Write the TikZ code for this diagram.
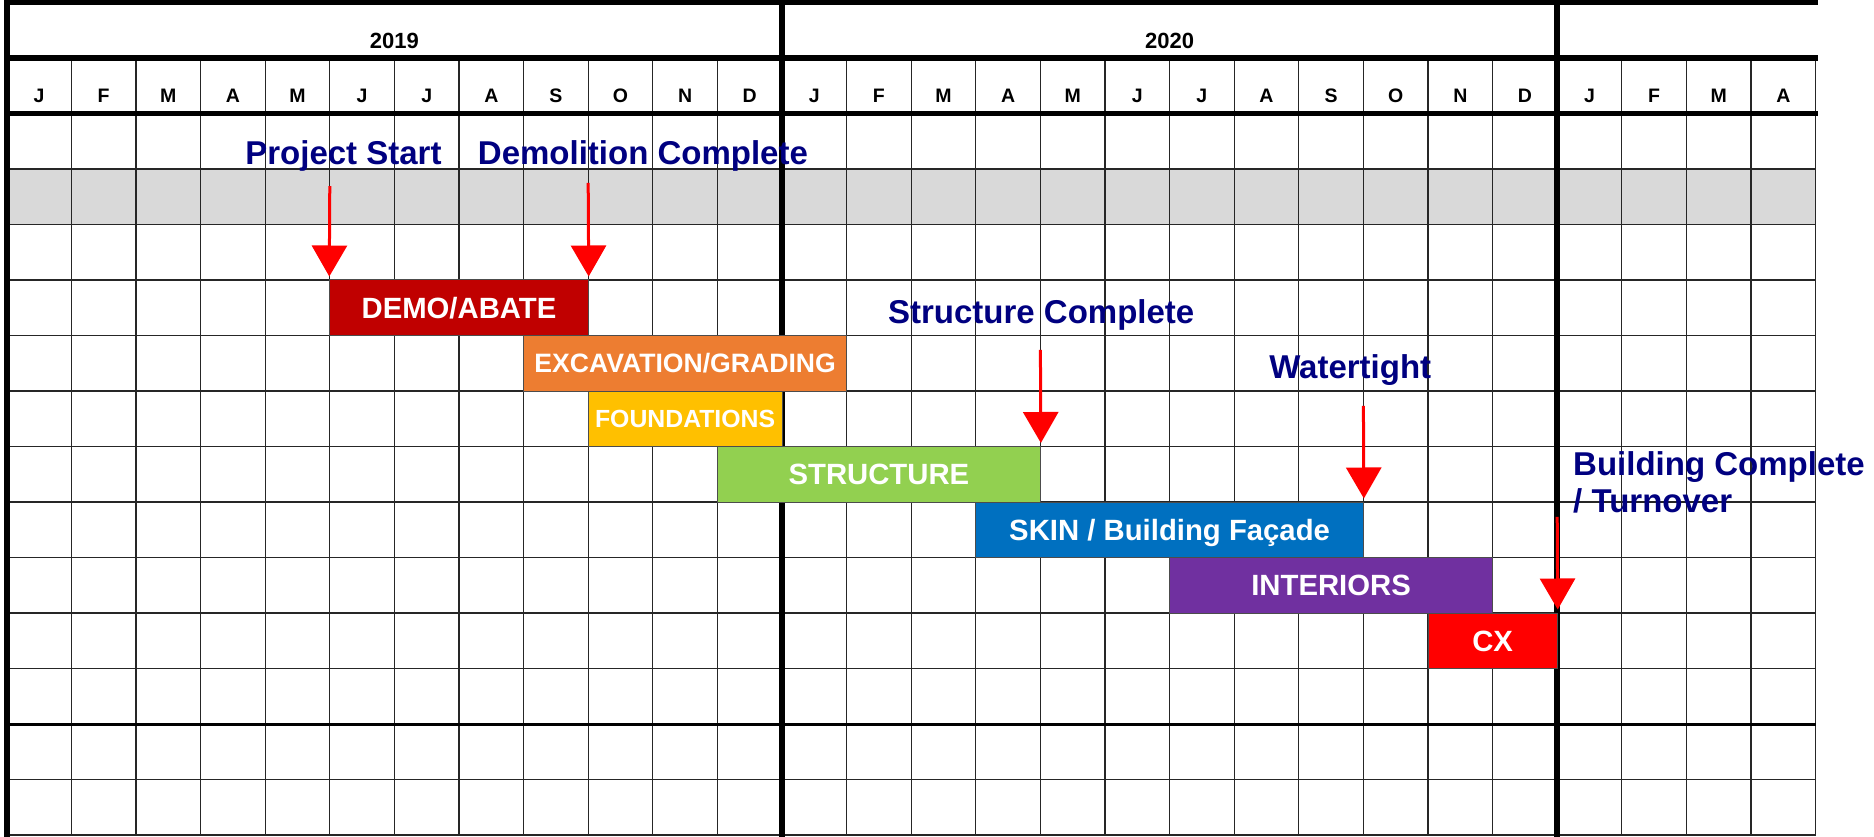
\documentclass[tikz,border=0pt]{standalone}
\usepackage{fontspec}
\setmainfont{Liberation Sans}
\usetikzlibrary{arrows.meta}

\definecolor{demored}{HTML}{C00000}
\definecolor{excorange}{HTML}{ED7D31}
\definecolor{foundgold}{HTML}{FFC000}
\definecolor{structgreen}{HTML}{92D050}
\definecolor{skinblue}{HTML}{0070C0}
\definecolor{intpurple}{HTML}{7030A0}
\definecolor{cxred}{HTML}{FF0000}
\definecolor{milenavy}{HTML}{000080}
\definecolor{rowgray}{HTML}{D9D9D9}

\begin{document}
\begin{tikzpicture}[x=64.6pt, y=-55.5pt,
  thin line/.style={line width=1.2pt, black!85},
  thick line/.style={line width=5.5pt, black, line cap=rect},
  year label/.style={font=\fontsize{22}{24}\selectfont\bfseries, anchor=base, inner sep=0pt},
  month label/.style={font=\fontsize{19.5}{21}\selectfont\bfseries, anchor=base, inner sep=0pt},
  bar/.style={draw=black!70, line width=1pt, minimum height=55.5pt, inner sep=0pt, text=white,
    font=\fontsize{29.3}{31}\selectfont\bfseries, text height=21pt, text depth=0pt},
  milestone/.style={text=milenavy, font=\fontsize{33}{37}\selectfont\bfseries, inner sep=0pt, anchor=base west},
  milestone arrow/.style={draw=cxred, line width=3pt, -{Triangle[length=31pt,width=35pt]}}]
\useasboundingbox (-0.105,-2.045) rectangle (28.904,13.018);
% grey band
\fill[rowgray] (0,1) rectangle (28,2);
% grid
\foreach \c in {1,...,28} \draw[thin line] (\c,-1) -- (\c,13);
\foreach \r in {1,...,10,12,13} \draw[thin line] (0,\r) -- (28,\r);
\foreach \r in {-2,-1,0} \draw[thick line] (0,\r) -- (28,\r);
\foreach \c in {0,12,24} \draw[thick line] (\c,-2) -- (\c,13);
\draw[line width=3pt] (0,11) -- (28,11);
% years and months
\node[year label] (y2019) at (6,-1.18) {2019};
\node[year label] (y2020) at (18,-1.18) {2020};
\foreach \m [count=\i from 0] in {J,F,M,A,M,J,J,A,S,O,N,D,J,F,M,A,M,J,J,A,S,O,N,D,J,F,M,A}
  \node[month label] (m\i) at (\i+0.5,-0.19) {\m};
% phases
\node[bar, fill=demored, minimum width=4*64.6pt] (demo) at (7,3.5) {DEMO/ABATE};
\node[bar, fill=excorange, minimum width=5*64.6pt, font=\fontsize{26.6}{28}\selectfont\bfseries, text height=19pt] (exc) at (10.5,4.5) {EXCAVATION/GRADING};
\node[bar, fill=foundgold, minimum width=3*64.6pt, font=\fontsize{24.8}{26}\selectfont\bfseries, text height=17.8pt] (found) at (10.5,5.5) {FOUNDATIONS};
\node[bar, fill=structgreen, minimum width=5*64.6pt] (struct) at (13.5,6.5) {STRUCTURE};
\node[bar, fill=skinblue, minimum width=6*64.6pt] (skin) at (18,7.5) {SKIN / Building Façade};
\node[bar, fill=intpurple, minimum width=5*64.6pt] (int) at (20.5,8.5) {INTERIORS};
\node[bar, fill=cxred, minimum width=2*64.6pt] (cx) at (23,9.5) {CX};
% milestones
\node[milestone] (start) at (3.69,0.91) {Project Start};
\node[milestone] (demodone) at (7.29,0.91) {Demolition Complete};
\node[milestone] (structdone) at (13.64,3.775) {Structure Complete};
\node[milestone] (watertight) at (19.54,4.766) {Watertight};
\node[milestone, align=left, anchor=north west] (turnover) at (24.245,6.08) {Building Complete\\/ Turnover};
\coordinate (start top) at (5,1.31);
\coordinate (demodone top) at (9,1.25);
\coordinate (structdone top) at (16,4.26);
\coordinate (watertight top) at (21,5.27);
\coordinate (turnover top) at (24,7.27);
\draw[milestone arrow] (start top) -- ([yshift=3pt]demo.north west);
\draw[milestone arrow] (demodone top) -- ([yshift=3pt]demo.north east);
\draw[milestone arrow] (structdone top) -- ([yshift=3pt]struct.north east);
\draw[milestone arrow] (watertight top) -- ([yshift=3pt]skin.north east);
\draw[milestone arrow] (turnover top) -- ([yshift=3pt]cx.north east);
\end{tikzpicture}
\end{document}
